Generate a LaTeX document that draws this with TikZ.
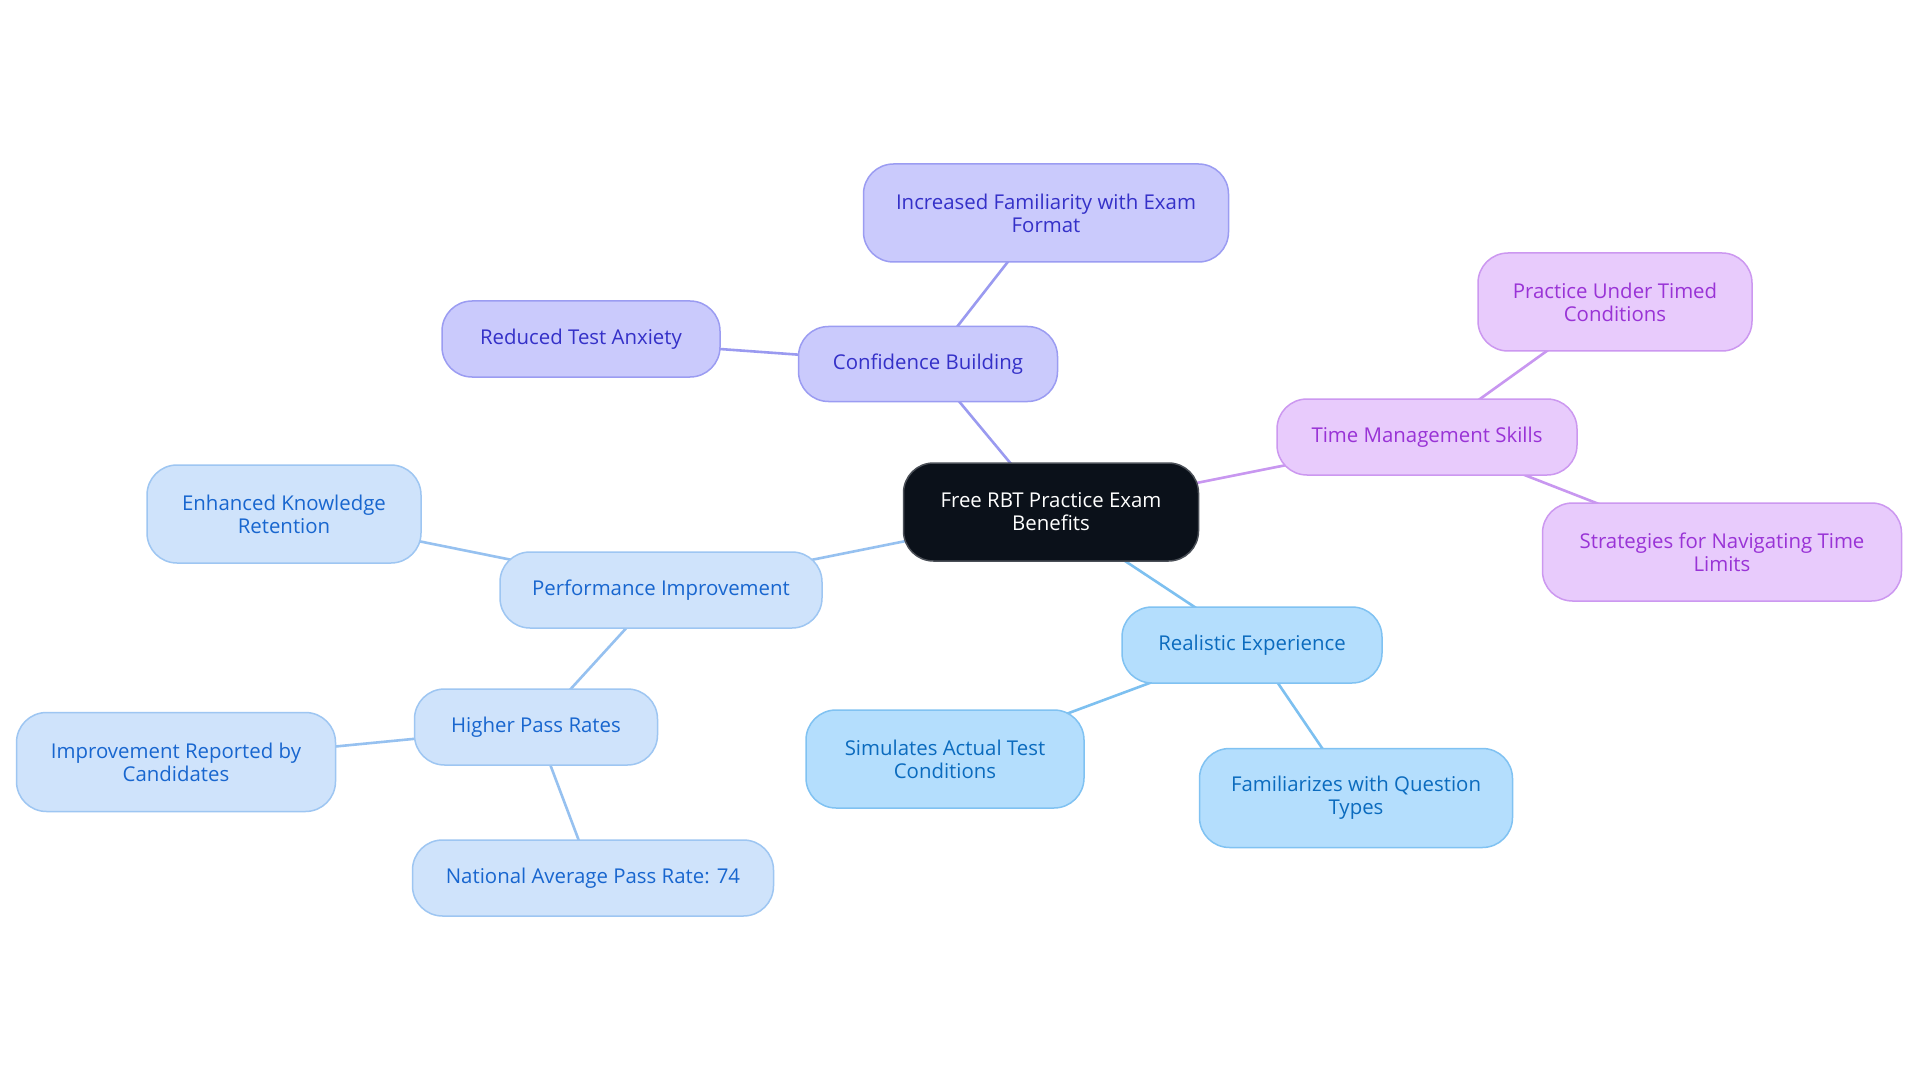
\documentclass[tikz,border=0pt]{standalone}
\usepackage{fontspec}
\setmainfont{Open Sans}
\usetikzlibrary{backgrounds}
\definecolor{rootF}{HTML}{0B111A}
\definecolor{rootD}{HTML}{4A4F57}
\definecolor{confF}{HTML}{CACAFC}
\definecolor{confD}{HTML}{9B9CF2}
\definecolor{confT}{HTML}{3430C8}
\definecolor{confE}{HTML}{9A9AF0}
\definecolor{timeF}{HTML}{E8CBFC}
\definecolor{timeD}{HTML}{CC98F0}
\definecolor{timeT}{HTML}{9933D6}
\definecolor{timeE}{HTML}{C897F0}
\definecolor{realF}{HTML}{B4DEFD}
\definecolor{realD}{HTML}{80C2F2}
\definecolor{realT}{HTML}{0B6BBE}
\definecolor{realE}{HTML}{7DC0F0}
\definecolor{perfF}{HTML}{CFE3FB}
\definecolor{perfD}{HTML}{9EC6F2}
\definecolor{perfT}{HTML}{1866CF}
\definecolor{perfE}{HTML}{96C1F0}
\begin{document}
\begin{tikzpicture}[x=1pt,y=-1pt,
  box/.style={rounded corners=30pt, line width=1.5pt, inner sep=0pt, align=center,
    font=\fontsize{20.4}{23}\selectfont},
  rootbox/.style={box, fill=rootF, draw=rootD, text=white},
  confbox/.style={box, fill=confF, draw=confD, text=confT},
  timebox/.style={box, fill=timeF, draw=timeD, text=timeT},
  realbox/.style={box, fill=realF, draw=realD, text=realT},
  perfbox/.style={box, fill=perfF, draw=perfD, text=perfT},
  link/.style={line width=2.6pt}]
\useasboundingbox (0,0) rectangle (1920,1083);

\node[rootbox, minimum width=295pt, minimum height=98pt] (root) at (1051,512) {Free RBT Practice Exam\\Benefits};

\node[confbox, minimum width=259pt, minimum height=75pt] (conf) at (928,364) {Confidence Building};
\node[confbox, minimum width=365pt, minimum height=98pt] (incr) at (1046,213) {Increased Familiarity with Exam\\Format};
\node[confbox, minimum width=278pt, minimum height=76pt] (redu) at (581,339) {Reduced Test Anxiety};

\node[timebox, minimum width=300pt, minimum height=76pt] (time) at (1427,437) {Time Management Skills};
\node[timebox, minimum width=274pt, minimum height=98pt] (prac) at (1615,302) {Practice Under Timed\\Conditions};
\node[timebox, minimum width=359pt, minimum height=98pt] (strat) at (1722,552) {Strategies for Navigating Time\\Limits};

\node[realbox, minimum width=260pt, minimum height=76pt] (real) at (1252,645) {Realistic Experience};
\node[realbox, minimum width=278pt, minimum height=98pt] (simu) at (945,759) {Simulates Actual Test\\Conditions};
\node[realbox, minimum width=313pt, minimum height=99pt] (fami) at (1356,798) {Familiarizes with Question\\Types};

\node[perfbox, minimum width=322pt, minimum height=76pt] (perf) at (661,590) {Performance Improvement};
\node[perfbox, minimum width=274pt, minimum height=98pt] (enha) at (284,514) {Enhanced Knowledge\\Retention};
\node[perfbox, minimum width=243pt, minimum height=76pt] (high) at (536,727) {Higher Pass Rates};
\node[perfbox, minimum width=319pt, minimum height=99pt] (impr) at (176,762) {Improvement Reported by\\Candidates};
\node[perfbox, minimum width=361pt, minimum height=76pt] (nati) at (593,878) {National Average Pass Rate: 74};

\begin{pgfonlayer}{background}
\fill[white] (0,0) rectangle (1920,1083);
\draw[link, confE] (root.center) -- (conf.center);
\draw[link, confE] (conf.center) -- (incr.center);
\draw[link, confE] (conf.center) -- (redu.center);
\draw[link, timeE] (root.center) -- (time.center);
\draw[link, timeE] (time.center) -- (prac.center);
\draw[link, timeE] (time.center) -- (strat.center);
\draw[link, realE] (root.center) -- (real.center);
\draw[link, realE] (real.center) -- (simu.center);
\draw[link, realE] (real.center) -- (fami.center);
\draw[link, perfE] (root.center) -- (perf.center);
\draw[link, perfE] (perf.center) -- (enha.center);
\draw[link, perfE] (perf.center) -- (high.center);
\draw[link, perfE] (high.center) -- (impr.center);
\draw[link, perfE] (high.center) -- (nati.center);
\end{pgfonlayer}
\end{tikzpicture}
\end{document}
